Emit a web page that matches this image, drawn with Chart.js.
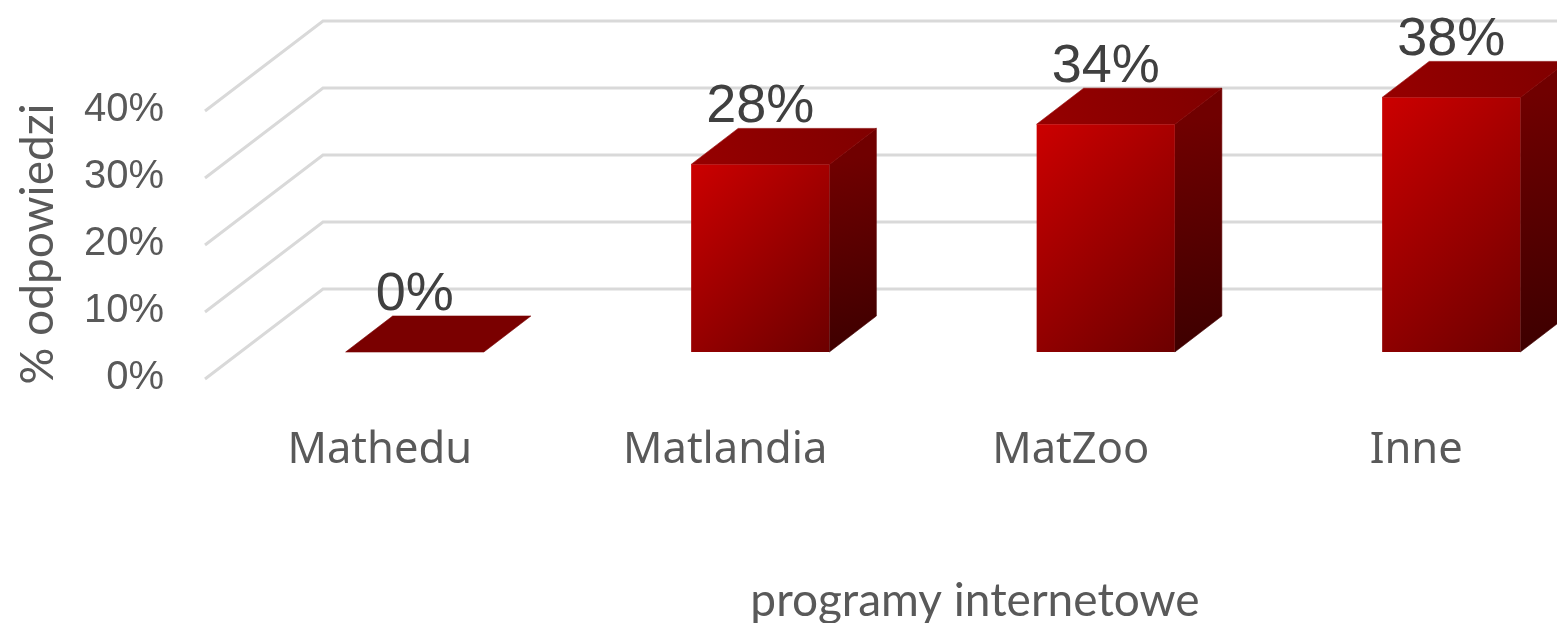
<!DOCTYPE html>
<html><head><meta charset="utf-8">
<style>html,body{margin:0;padding:0;background:#fff;overflow:hidden;width:1557px;height:623px}canvas{display:block}</style>
<script src="https://cdn.jsdelivr.net/npm/chart.js@4"></script>
</head><body>
<canvas id="c" width="1589" height="623" style="width:1589px;height:623px"></canvas>
<script>
const categories = ['Mathedu','Matlandia','MatZoo','Inne'];
const values = [0,28,34,38];
const yTicks = [0,10,20,30,40];
const yTitle = '% odpowiedzi';
const xTitle = 'programy internetowe';

const FLOOR = {dx:118, dy:-89};   // side-wall diagonal
const SHIFT = {dx:35, dy:-26};    // bars stand this far behind the front edge
const DEPTH = {dx:47, dy:-36};    // bar depth
function lin(ctx,x0,y0,x1,y1,a,b){const g=ctx.createLinearGradient(x0,y0,x1,y1);g.addColorStop(0,a);g.addColorStop(1,b);return g;}
function poly(ctx,pts,fill){ctx.beginPath();pts.forEach((p,i)=>i?ctx.lineTo(p[0],p[1]):ctx.moveTo(p[0],p[1]));ctx.closePath();ctx.fillStyle=fill;ctx.strokeStyle=fill;ctx.lineWidth=0.6;ctx.fill();ctx.stroke();}

const threeD = {
  id:'threeD',
  beforeDatasetsDraw(chart){
    const {ctx,scales:{y},chartArea:a}=chart;
    ctx.save();ctx.strokeStyle='#d9d9d9';ctx.lineWidth=3;ctx.lineJoin='miter';
    yTicks.forEach(v=>{const p=y.getPixelForValue(v);
      ctx.beginPath();ctx.moveTo(a.left-2,p+1);ctx.lineTo(a.left-2+FLOOR.dx,p+FLOOR.dy);ctx.lineTo(chart.width,p+FLOOR.dy);ctx.stroke();});
    ctx.restore();
  },
  beforeDatasetDraw(chart,args){
    const {ctx}=chart;const meta=args.meta;
    ctx.save();ctx.translate(SHIFT.dx,SHIFT.dy);
    meta.data.forEach(b=>{
      const l=b.x-b.width/2,r=b.x+b.width/2,t=b.y,bot=b.base,d=DEPTH;
      if(bot-t>1){
        poly(ctx,[[r,t],[r+d.dx,t+d.dy],[r+d.dx,bot+d.dy],[r,bot]],lin(ctx,r,t,r+d.dx,bot,'#700000','#3c0000'));
        poly(ctx,[[l,t],[r,t],[r+d.dx,t+d.dy],[l+d.dx,t+d.dy]],lin(ctx,l,t,r+d.dx,t+d.dy,'#960000','#800000'));
      } else {
        poly(ctx,[[l,t],[r,t],[r+d.dx,t+d.dy],[l+d.dx,t+d.dy]],'#7a0000');
      }
    });
  },
  afterDatasetDraw(chart,args){
    const {ctx}=chart;ctx.restore();ctx.save();
    ctx.font='54px "Liberation Sans"';ctx.fillStyle='#404040';ctx.textAlign='center';ctx.textBaseline='middle';
    args.meta.data.forEach((b,i)=>{ctx.fillText(values[i]+'%',b.x+SHIFT.dx,b.y+SHIFT.dy-57);});
    ctx.restore();
  },
  afterDraw(chart){
    const {ctx}=chart;ctx.save();
    ctx.font='46px "Lato"';ctx.fillStyle='#595959';ctx.textAlign='center';ctx.textBaseline='middle';
    ctx.fillText(xTitle,975,601);ctx.restore();
  }
};

new Chart(document.getElementById('c'),{
  type:'bar',
  data:{labels:categories,datasets:[{data:values,
    categoryPercentage:1,barPercentage:0.4,borderWidth:0,
    backgroundColor(c){
      if(c.dataIndex===undefined||!c.chart.chartArea)return '#a00000';
      const s=c.chart.scales,x=s.x.getPixelForValue(c.dataIndex),w=138;
      const t=s.y.getPixelForValue(c.raw),b=s.y.getPixelForValue(0),L=(w+b-t)/2;
      return lin(c.chart.ctx,x-w/2,t,x-w/2+L,t+L,'#cc0000','#6c0000');
    }}]},
  options:{
    responsive:false,animation:false,
    layout:{padding:{top:110,left:0,right:0,bottom:0}},
    plugins:{legend:{display:false},tooltip:{enabled:false}},
    scales:{
      x:{grid:{display:false,drawTicks:false},border:{display:false},
        ticks:{color:'#595959',font:{family:'"Noto Sans"',size:43.5},padding:47,maxRotation:0,autoSkip:false},
        afterFit(s){s.height=245;}},
      y:{min:0,max:40,grid:{display:false,drawTicks:false},border:{display:false},
        ticks:{stepSize:10,color:'#595959',font:{family:'"Liberation Sans"',size:40},padding:43,callback:v=>v+'%'},
        title:{display:true,text:yTitle,color:'#595959',font:{family:'Lato',size:46},padding:{top:11,bottom:0}},
        afterFit(s){s.width=207;}}
    }
  },
  plugins:[threeD]
});
</script>
</body></html>
